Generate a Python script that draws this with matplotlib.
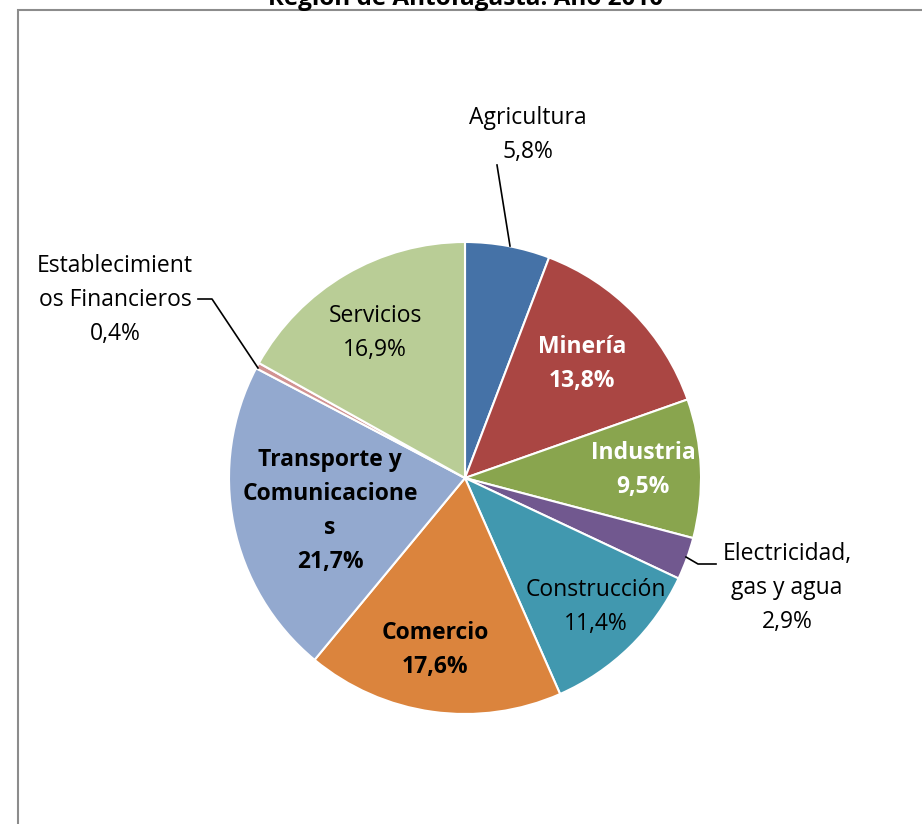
import matplotlib
matplotlib.use("Agg")
import matplotlib.pyplot as plt
from matplotlib.patches import Rectangle

plt.rcParams['font.family'] = ['Open Sans', 'DejaVu Sans']

title = "Región de Antofagasta. Año 2010"
categories = ["Agricultura", "Minería", "Industria", "Electricidad, gas y agua",
              "Construcción", "Comercio", "Transporte y Comunicaciones",
              "Establecimientos Financieros", "Servicios"]
values = [5.8, 13.8, 9.5, 2.9, 11.4, 17.6, 21.7, 0.4, 16.9]
label_texts = ["Agricultura\n5,8%", "Minería\n13,8%", "Industria\n9,5%",
               "Electricidad,\ngas y agua\n2,9%", "Construcción\n11,4%",
               "Comercio\n17,6%", "Transporte y\nComunicacione\ns\n21,7%",
               "Establecimient\nos Financieros\n0,4%", "Servicios\n16,9%"]
colors = ["#4572A7", "#AA4643", "#89A54E", "#71588F", "#4198AF",
          "#DB843D", "#93A9CF", "#D19392", "#B9CD96"]

W, H = 922, 824
fig = plt.figure(figsize=(W / 100, H / 100), dpi=100)
ax = fig.add_axes([0, 0, 1, 1])

def py(y):
    return H - y

cx, cy, r = 465, 478, 236
ax.pie(values, colors=colors, startangle=90, counterclock=False,
       center=(cx, py(cy)), radius=r, frame=True,
       wedgeprops=dict(edgecolor='white', linewidth=1.5))
ax.set_xlim(0, W)
ax.set_ylim(0, H)
ax.set_aspect('equal')
ax.axis('off')

# chart frame
ax.add_patch(Rectangle((18, py(900)), 1000, 890, fill=False,
                       edgecolor='#8c8c8c', linewidth=1.5, clip_on=False))

fs = 16.5
ls = 1.55
# label positions (pixel coords of text block centers)
pos = [(528, 135), (582, 364), (643, 470), (787, 588), (596, 607),
       (435, 650), (330, 511), (115, 300), (375, 333)]
styles = [('black', 'normal'), ('white', 'bold'), ('white', 'bold'),
          ('black', 'normal'), ('black', 'normal'), ('black', 'bold'),
          ('black', 'bold'), ('black', 'normal'), ('black', 'normal')]
for t, (x, y), (c, w) in zip(label_texts, pos, styles):
    ax.text(x, py(y), t, ha='center', va='center', fontsize=fs, color=c,
            fontweight=w, linespacing=ls)

# leader lines
ax.plot([497, 510], [py(165), py(246)], color='black', lw=1.2)
ax.plot([686, 698, 716], [py(557), py(564), py(564)], color='black', lw=1.2)
ax.plot([198, 212, 258], [py(299), py(299), py(368)], color='black', lw=1.2)

ax.text(466, py(5), title, ha='center', va='baseline', fontsize=17.5,
        fontweight='bold')

fig.savefig("out.png", dpi=100)
